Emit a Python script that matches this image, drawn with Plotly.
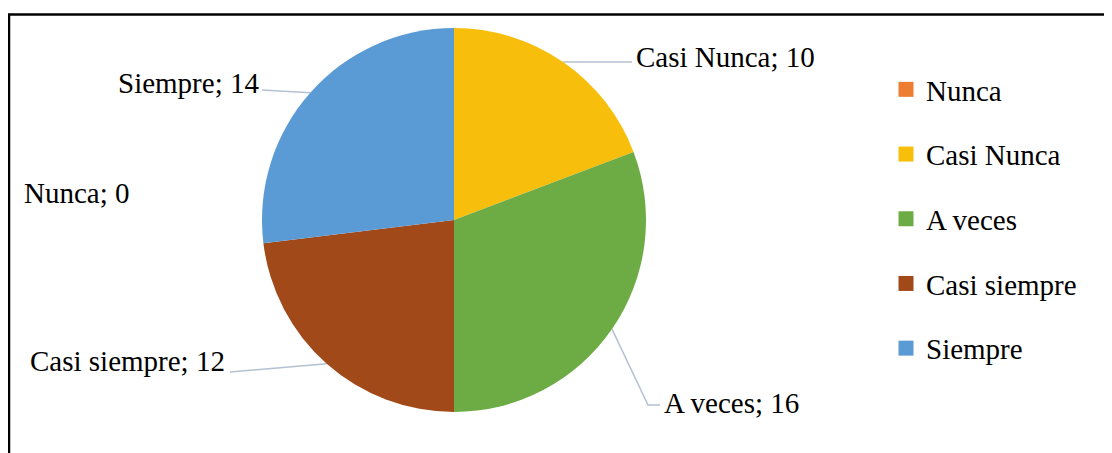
import math
import plotly.graph_objects as go

categories = ["Nunca", "Casi Nunca", "A veces", "Casi siempre", "Siempre"]
values = [0, 10, 16, 12, 14]
colors = ["#ED7D31", "#F8BE0C", "#6DAC44", "#A2491A", "#5B9BD5"]

W, H = 1112, 453
OFF = 8  # page body margin; overlay axes are expressed in screen pixels
CX, CY, R = 454, 220, 192
FONT = "Liberation Serif, Times New Roman, serif"
FS = 29
LINE_COLOR = "#B4C1D2"

# label placement style
label_style = {
    "Nunca":        dict(path=[], text_xy=(22, 193), anchor="left"),
    "Casi Nunca":   dict(path=[(632, None)], text_xy=(634, None), anchor="left"),
    "A veces":      dict(path=[(648, 405), (660, 405)], text_xy=(662, 403), anchor="left"),
    "Casi siempre": dict(path=[(230, 372)], text_xy=(227, 361), anchor="right"),
    "Siempre":      dict(path=[(262, 90)], text_xy=(261, 83), anchor="right"),
}

fig = go.Figure()

fig.add_trace(go.Pie(
    labels=categories, values=values, sort=False, direction="clockwise",
    rotation=0, marker=dict(colors=colors, line=dict(width=0)),
    textinfo="none", hoverinfo="label+value", showlegend=False,
    domain=dict(x=[(CX - OFF - R) / W, (CX - OFF + R) / W],
                y=[1 - (CY - OFF + R) / H, 1 - (CY - OFF - R) / H]),
))

total = sum(values)
cum = 0
annotations = []
for cat, v in zip(categories, values):
    mid = (cum + v / 2) / total * 2 * math.pi
    cum += v
    sx = CX + R * math.sin(mid)
    sy = CY - R * math.cos(mid)
    st = label_style[cat]
    pts = [(sx, sy)]
    for px, py in st["path"]:
        pts.append((px, sy if py is None else py))
    if len(pts) > 1:
        fig.add_trace(go.Scatter(
            x=[p[0] for p in pts], y=[p[1] for p in pts], mode="lines",
            line=dict(color=LINE_COLOR, width=1.5), hoverinfo="skip",
            showlegend=False, xaxis="x", yaxis="y"))
    tx, ty = st["text_xy"]
    if ty is None:
        ty = sy - 5
    annotations.append(dict(
        x=tx, y=ty, xref="x", yref="y", text=f"{cat}; {v}", showarrow=False,
        xanchor=st["anchor"], yanchor="middle",
        font=dict(family=FONT, size=FS, color="black")))

# legend entries
for i, (cat, c) in enumerate(zip(categories, colors)):
    fig.add_trace(go.Scatter(
        x=[None], y=[None], mode="markers", name=cat, legendgroup=f"g{i}",
        marker=dict(symbol="square", size=15, color=c), showlegend=True))

fig.update_layout(
    width=W, height=H, margin=dict(l=0, r=0, t=0, b=0),
    paper_bgcolor="white", plot_bgcolor="rgba(0,0,0,0)",
    xaxis=dict(range=[OFF, W + OFF], visible=False, fixedrange=True, domain=[0, 1]),
    yaxis=dict(range=[H + OFF, OFF], visible=False, fixedrange=True, domain=[0, 1]),
    annotations=annotations,
    legend=dict(x=878 / W, y=1 - 56 / H, xanchor="left", yanchor="top",
                font=dict(family=FONT, size=FS, color="black"),
                tracegroupgap=24, itemwidth=30, bgcolor="rgba(0,0,0,0)"),
    shapes=[dict(type="rect", xref="x", yref="y", x0=9, x1=W + 20, y0=14.5, y1=H + 20,
                 line=dict(color="black", width=2.5), fillcolor="rgba(0,0,0,0)", layer="above")],
)

fig.write_html("out.html")
